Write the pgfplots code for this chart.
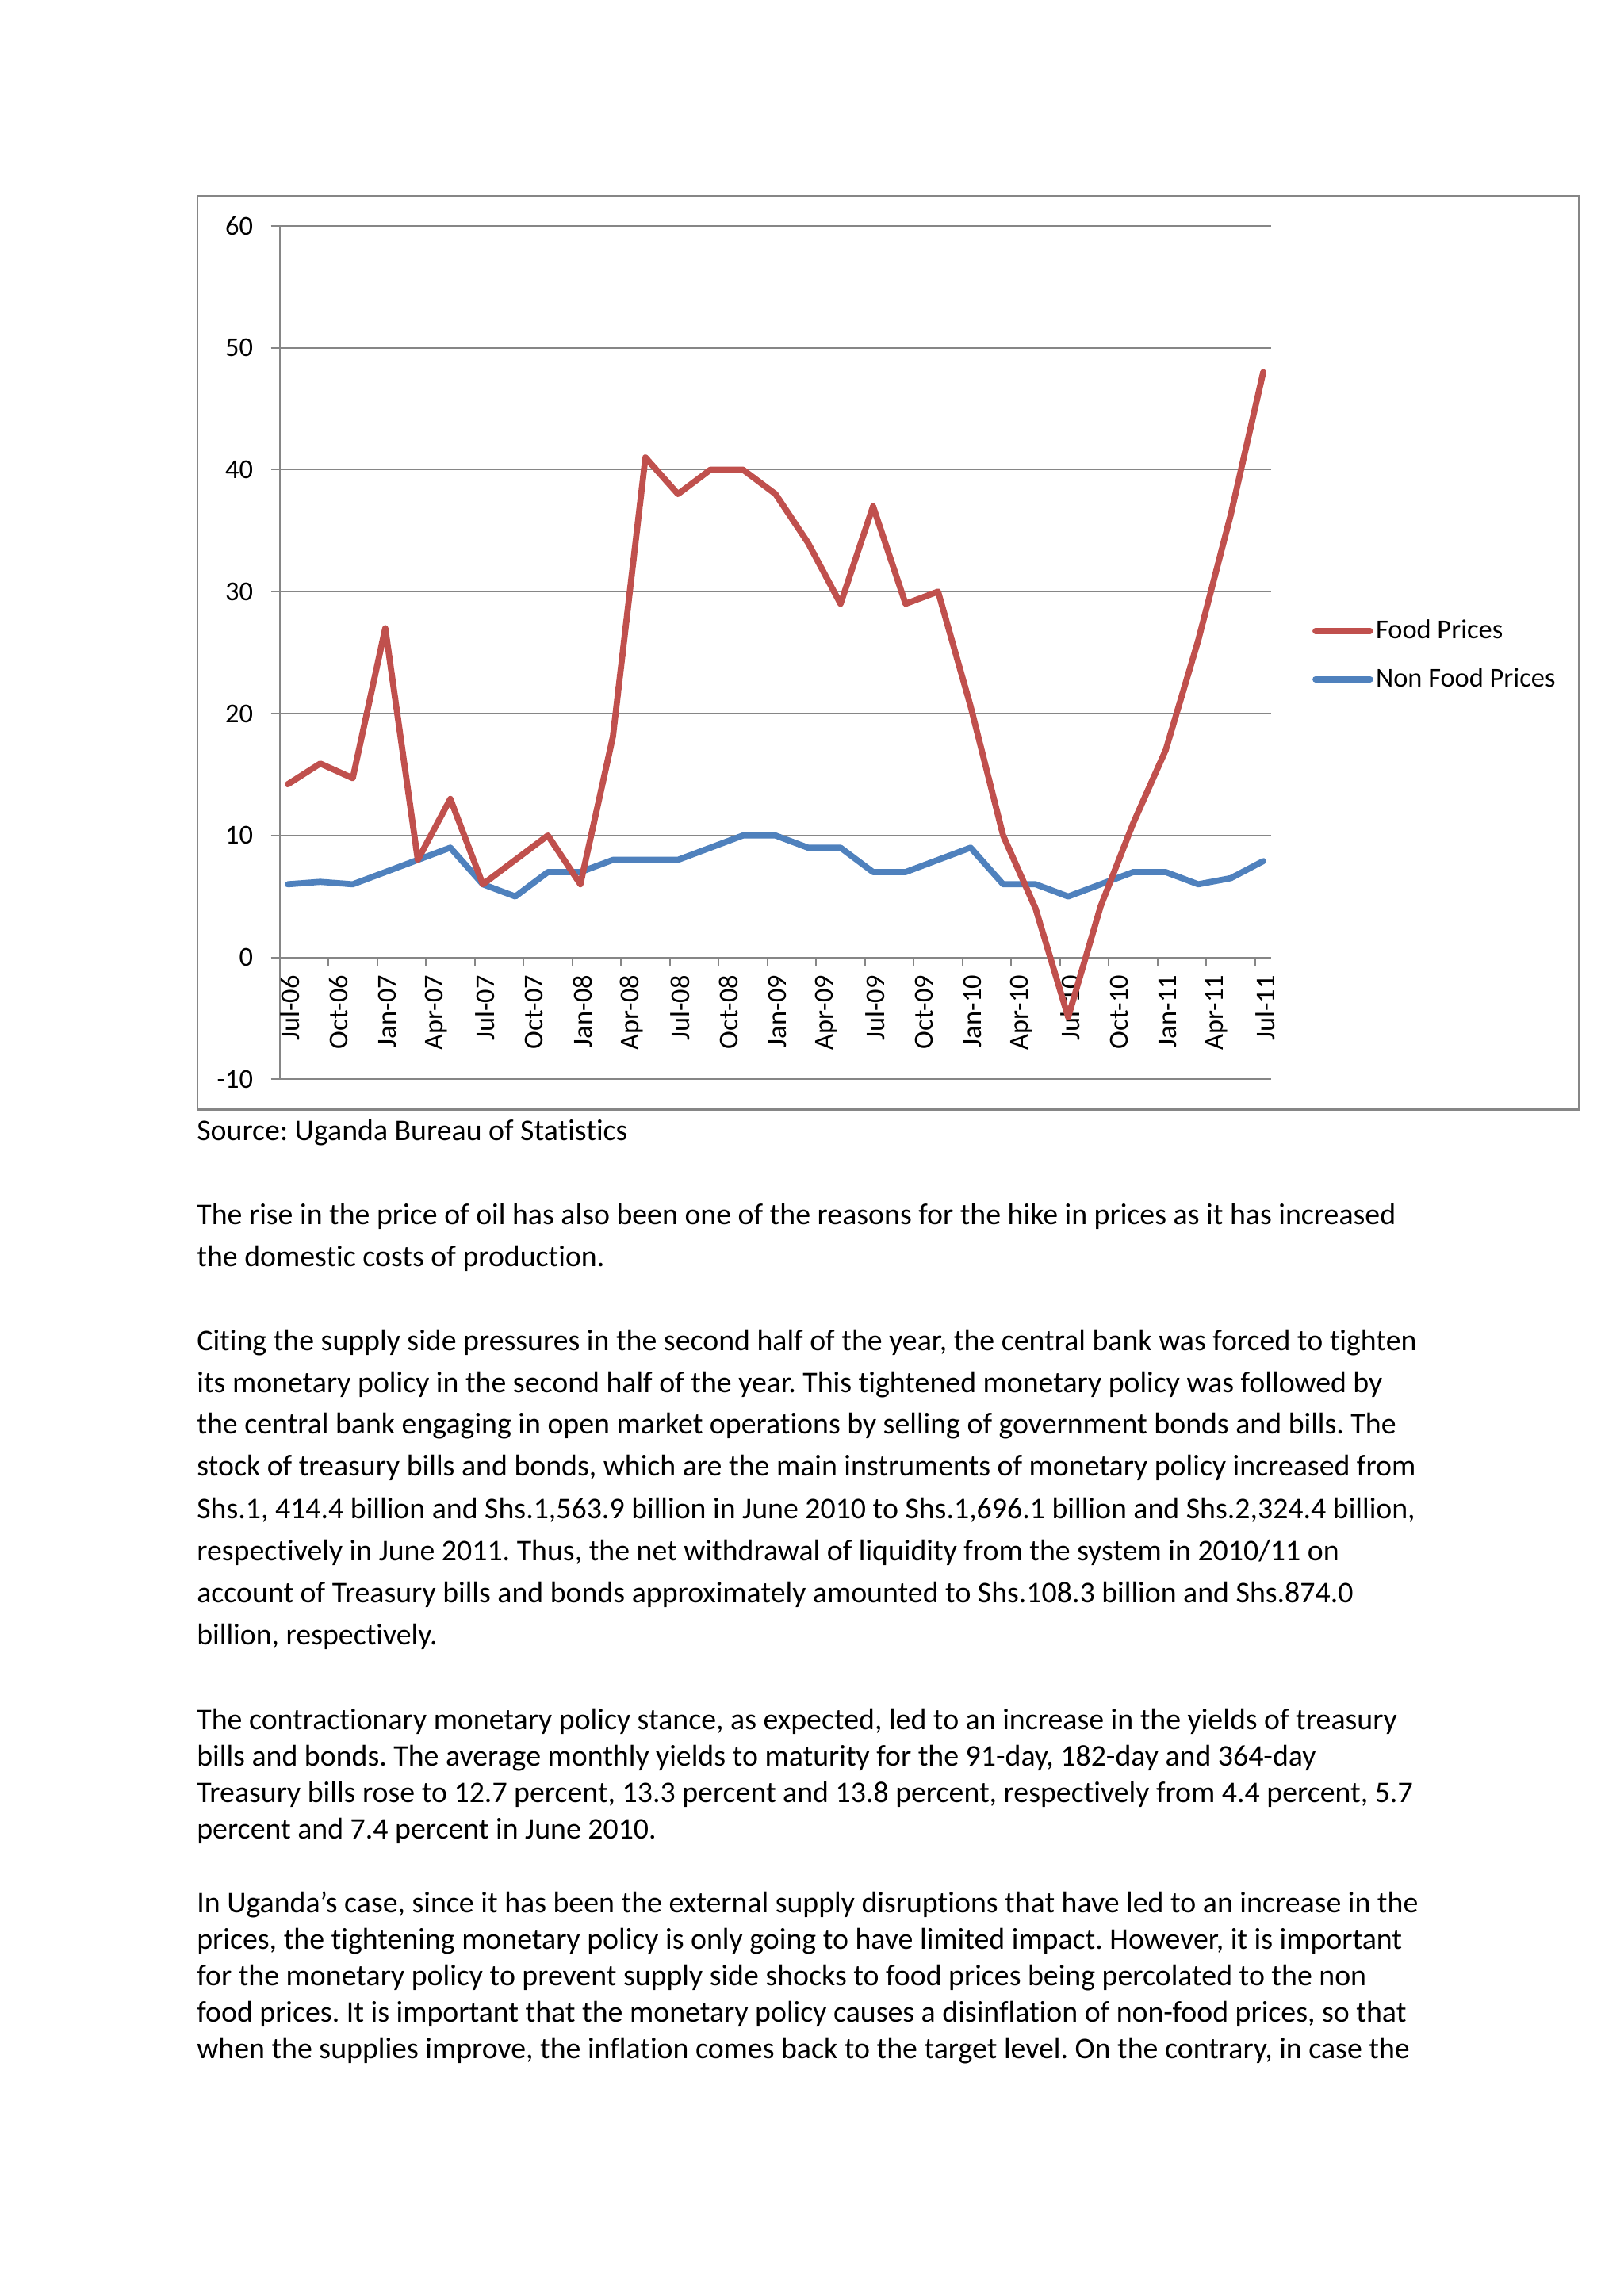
\documentclass[border=0pt]{standalone}
\usepackage{fontspec}
\setmainfont{Carlito}[Ligatures=NoCommon]
\usepackage{pgfplots}
\usepackage{pgfplotstable}
\pgfplotsset{compat=1.18}
\definecolor{foodred}{HTML}{C0504D}
\definecolor{nonfoodblue}{HTML}{4F81BD}
\definecolor{gridgray}{HTML}{868686}
\newcommand\bodyfont{\fontsize{11}{13.4}\selectfont}
\frenchspacing

% months after Jul-06, food and non food inflation
\pgfplotstableread{
x  food  nonfood
0  14.2  6.0
2  15.9  6.2
4  14.7  6.0
6  27.0  7.0
8  8.0   8.0
10 13.0  9.0
12 6.0   6.0
14 8.0   5.0
16 10.0  7.0
18 6.0   7.0
20 18.1  8.0
22 41.0  8.0
24 38.0  8.0
26 40.0  9.0
28 40.0  10.0
30 38.0  10.0
32 34.0  9.0
34 29.0  9.0
36 37.0  7.0
38 29.0  7.0
40 30.0  8.0
42 20.6  9.0
44 10.0  6.0
46 4.0   6.0
48 -4.9  5.0
50 4.2   6.0
52 11.0  7.0
54 17.0  7.0
56 26.0  6.0
58 36.3  6.5
60 48.0  7.9
}\pricedata

\begin{document}
\begin{tikzpicture}[x=1pt,y=1pt]
\path[use as bounding box, fill=white] (0,0) rectangle (595.28,841.89);
\draw[gridgray, line width=0.75pt] (72.4,435.0) rectangle (578.9,770.0);
\begin{axis}[
  at={(102.5pt,446.1pt)}, anchor=south west,
  scale only axis, width=363.6pt, height=313pt,
  xmin=-0.5, xmax=60.5, ymin=-10, ymax=60,
  axis x line=middle, axis y line=left,
  axis line style={-, draw=gridgray, line width=0.6pt},
  hide obscured x ticks=false, hide obscured y ticks=false,
  ytick={-10,0,...,60},
  ymajorgrids, grid style={draw=gridgray, line width=0.6pt},
  xtick={2.5,5.5,...,59.5},
  xticklabels={},
  extra x ticks={0,3,...,60},
  extra x tick labels={Jul-06,Oct-06,Jan-07,Apr-07,Jul-07,Oct-07,Jan-08,Apr-08,Jul-08,Oct-08,Jan-09,Apr-09,Jul-09,Oct-09,Jan-10,Apr-10,Jul-10,Oct-10,Jan-11,Apr-11,Jul-11},
  extra x tick style={major tick length=0pt},
  xticklabel style={yshift=-3pt, xshift=0.8pt, rotate=90, anchor=east},
  tick align=outside, major tick length=3.2pt,
  tick style={draw=gridgray, line width=0.6pt},
  ticklabel style={font=\fontsize{10}{12}\selectfont},
  yticklabel style={xshift=-3pt},
  /pgf/number format/assume math mode=true,
  legend style={draw=none, fill=none, at={(1.0326,0.497)}, anchor=west,
    font=\fontsize{10}{12}\selectfont, row sep=5.3pt,
    nodes={inner xsep=1.0pt}},
  legend cell align=left,
  legend image code/.code={\draw[#1, line cap=round] (0pt,0pt) -- (20pt,0pt);},
  reverse legend,
]
\addplot[nonfoodblue, line width=2.25pt, line join=round, line cap=round] table[x=x, y=nonfood]{\pricedata};
\addlegendentry{Non Food Prices}
\addplot[foodred, line width=2.25pt, line join=round, line cap=round] table[x=x, y=food]{\pricedata};
\addlegendentry{Food Prices}
\end{axis}
\begin{scope}[every node/.style={anchor=base west, inner sep=0pt, font=\bodyfont}]
\node at (72,423.6) {Source: Uganda Bureau of Statistics};
\node at (72,393.0) {The rise in the price of oil has also been one of the reasons for the hike in prices as it has increased};
\node at (72,377.4) {the domestic costs of production.};
\node at (72,346.8) {Citing the supply side pressures in the second half of the year, the central bank was forced to tighten};
\node at (72,331.4) {its monetary policy in the second half of the year. This tightened monetary policy was followed by};
\node at (72,316.0) {the central bank engaging in open market operations by selling of government bonds and bills. The};
\node at (72,300.6) {stock of treasury bills and bonds, which are the main instruments of monetary policy increased from};
\node at (72,285.1) {Shs.1, 414.4 billion and Shs.1,563.9 billion in June 2010 to Shs.1,696.1 billion and Shs.2,324.4 billion,};
\node at (72,269.7) {respectively in June 2011. Thus, the net withdrawal of liquidity from the system in 2010/11 on};
\node at (72,254.3) {account of Treasury bills and bonds approximately amounted to Shs.108.3 billion and Shs.874.0};
\node at (72,238.9) {billion, respectively.};
\node at (72,207.8) {The contractionary monetary policy stance, as expected, led to an increase in the yields of treasury};
\node at (72,194.4) {bills and bonds. The average monthly yields to maturity for the 91-day, 182-day and 364-day};
\node at (72,180.9) {Treasury bills rose to 12.7 percent, 13.3 percent and 13.8 percent, respectively from 4.4 percent, 5.7};
\node at (72,167.5) {percent and 7.4 percent in June 2010.};
\node at (72,140.7) {In Uganda’s case, since it has been the external supply disruptions that have led to an increase in the};
\node at (72,127.2) {prices, the tightening monetary policy is only going to have limited impact. However, it is important};
\node at (72,113.8) {for the monetary policy to prevent supply side shocks to food prices being percolated to the non};
\node at (72,100.4) {food prices. It is important that the monetary policy causes a disinflation of non-food prices, so that};
\node at (72,87.0) {when the supplies improve, the inflation comes back to the target level. On the contrary, in case the};
\end{scope}
\end{tikzpicture}
\end{document}
